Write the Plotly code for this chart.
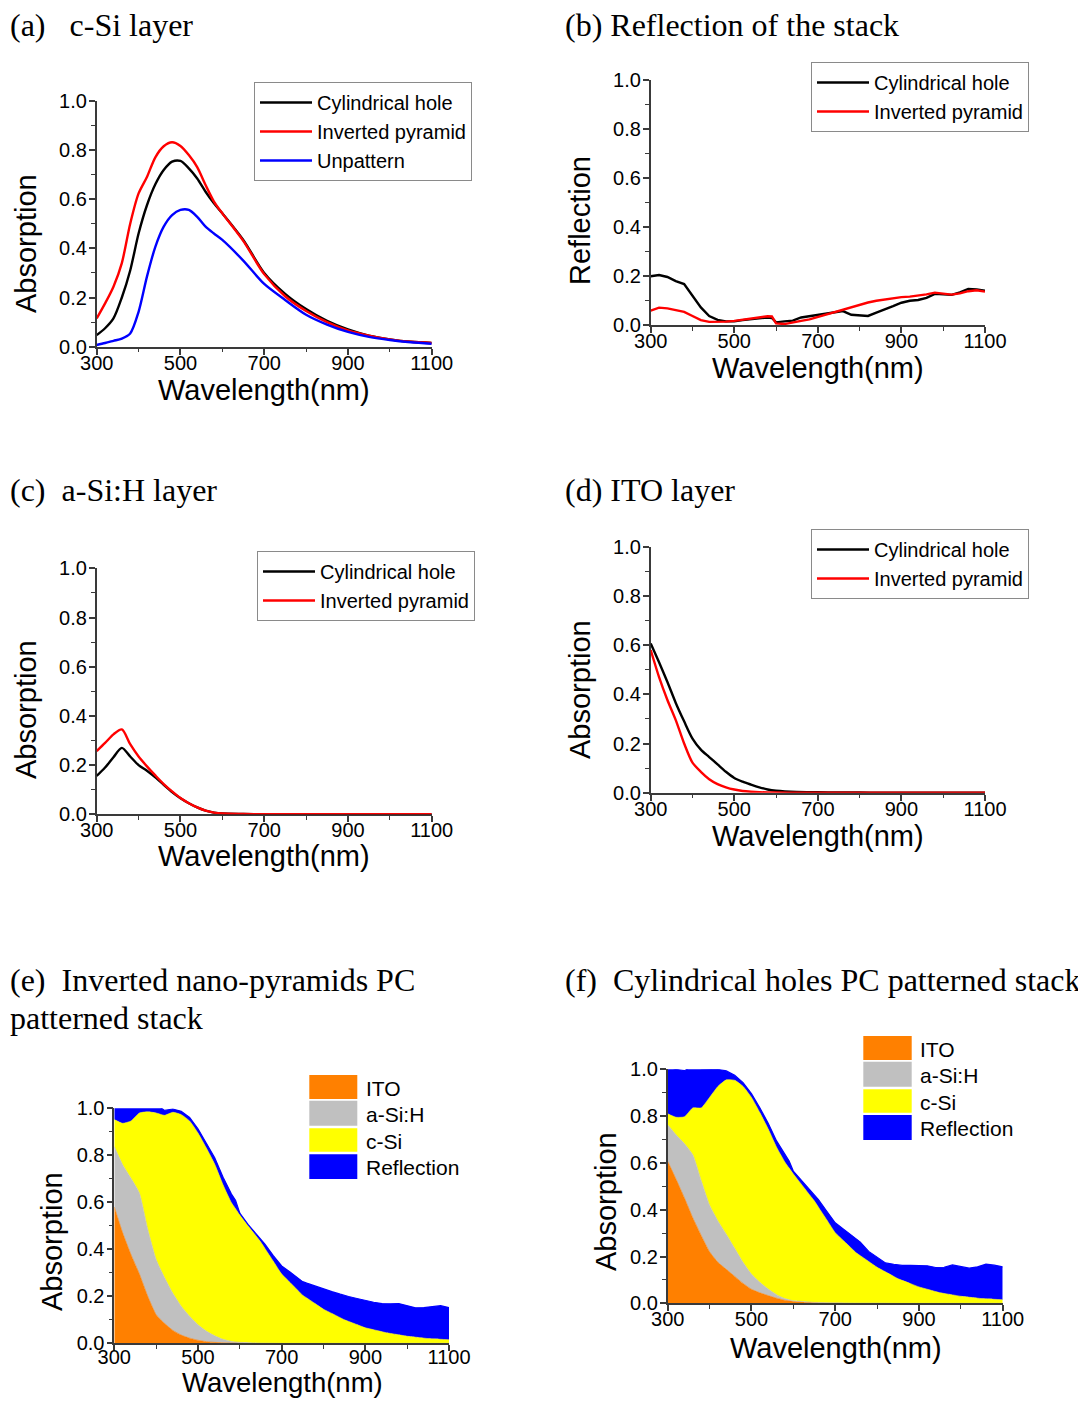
import plotly.graph_objects as go

# ---------------- data ----------------
W = [300, 320, 340, 360, 380, 400, 420, 440, 460, 480, 500, 520, 540, 560, 580, 600,
     650, 700, 750, 800, 850, 900, 950, 1000, 1050, 1100]

# (a) c-Si layer absorption
csi_cyl = [0.047, 0.075, 0.115, 0.20, 0.31, 0.46, 0.575, 0.66, 0.718, 0.752, 0.755, 0.725, 0.684, 0.63, 0.583, 0.542,
           0.434, 0.30, 0.215, 0.153, 0.105, 0.07, 0.045, 0.03, 0.02, 0.015]
csi_pyr = [0.115, 0.176, 0.244, 0.34, 0.50, 0.623, 0.69, 0.77, 0.815, 0.831, 0.816, 0.779, 0.73, 0.657, 0.59, 0.542,
           0.43, 0.295, 0.205, 0.145, 0.10, 0.066, 0.045, 0.03, 0.02, 0.015]
csi_unp = [0.007, 0.015, 0.024, 0.033, 0.054, 0.142, 0.285, 0.406, 0.488, 0.535, 0.556, 0.556, 0.528, 0.488, 0.46, 0.434,
           0.35, 0.255, 0.19, 0.13, 0.09, 0.06, 0.04, 0.027, 0.018, 0.012]

# (c) a-Si:H layer absorption
asi_cyl = [0.156, 0.19, 0.232, 0.27, 0.235, 0.20, 0.177, 0.15, 0.12, 0.09, 0.065, 0.045, 0.028, 0.015, 0.007, 0.003,
           0.001, 0, 0, 0, 0, 0, 0, 0, 0, 0]
asi_pyr = [0.257, 0.29, 0.325, 0.345, 0.285, 0.235, 0.195, 0.158, 0.123, 0.093, 0.066, 0.045, 0.028, 0.015, 0.007, 0.003,
           0.001, 0, 0, 0, 0, 0, 0, 0, 0, 0]

# (d) ITO layer absorption
ito_cyl = [0.607, 0.53, 0.45, 0.365, 0.29, 0.22, 0.175, 0.145, 0.115, 0.085, 0.06, 0.045, 0.033, 0.022, 0.013, 0.008,
           0.003, 0.002, 0.001, 0.001, 0, 0, 0, 0, 0, 0]
ito_pyr = [0.58, 0.47, 0.377, 0.295, 0.20, 0.122, 0.085, 0.055, 0.035, 0.022, 0.013, 0.007, 0.004, 0.002, 0.001, 0.001,
           0, 0, 0, 0, 0, 0, 0, 0, 0, 0]

# (b) reflection of the stack
WB = [300, 320, 340, 360, 380, 400, 420, 440, 460, 480, 500, 520, 540, 560, 580, 590, 600, 620, 640, 660, 680,
      700, 720, 740, 760, 780, 800, 820, 840, 860, 880, 900, 920, 940, 960, 980, 1000, 1020, 1040, 1060, 1080, 1100]
refl_cyl = [0.20, 0.205, 0.197, 0.18, 0.168, 0.122, 0.073, 0.038, 0.022, 0.016, 0.016, 0.021, 0.024, 0.027, 0.032,
            0.03, 0.012, 0.016, 0.019, 0.032, 0.037, 0.042, 0.049, 0.055, 0.058, 0.043, 0.042, 0.038, 0.052, 0.064,
            0.078, 0.092, 0.10, 0.103, 0.112, 0.128, 0.126, 0.124, 0.134, 0.148, 0.146, 0.141]
refl_pyr = [0.06, 0.072, 0.069, 0.062, 0.055, 0.038, 0.021, 0.014, 0.014, 0.015, 0.018, 0.023, 0.028, 0.033, 0.037,
            0.036, 0.008, 0.005, 0.01, 0.018, 0.024, 0.034, 0.044, 0.052, 0.063, 0.074, 0.085, 0.093, 0.10, 0.106,
            0.111, 0.115, 0.117, 0.12, 0.126, 0.133, 0.13, 0.125, 0.13, 0.139, 0.143, 0.137]

x_ticks = [300, 500, 700, 900, 1100]
y_ticks = [0.0, 0.2, 0.4, 0.6, 0.8, 1.0]

# ---------------- layout helpers ----------------
OFF = 8                      # default page margin around the figure
FW, FH = 1086 - OFF, 1401 - OFF
SANS = "Liberation Sans, Arial, sans-serif"
SERIF = "Liberation Serif, Times New Roman, serif"
AXC = "#3a3a3a"


def px(x):
    return (x - OFF) / FW


def py(y):
    return 1 - (y - OFF) / FH


# plot-area boxes in page pixels (left, right, top, bottom)
boxes = {
    1: (96.7, 431.7, 100.7, 346.7),
    2: (650.7, 985.0, 80.0, 325.3),
    3: (96.7, 431.7, 568.3, 814.3),
    4: (650.7, 985.0, 546.7, 792.7),
    5: (114.3, 449.0, 1108.3, 1343.3),
    6: (667.7, 1002.7, 1069.3, 1303.3),
}

fig = go.Figure()

BLACK, RED, BLUE = "#000000", "#FF0000", "#0000FF"


def line(x, y, name, color, n, legend, shape="spline"):
    sfx = "" if n == 1 else str(n)
    fig.add_trace(go.Scatter(
        x=x, y=y, name=name, mode="lines",
        line=dict(color=color, width=2.4, shape=shape, smoothing=0.8),
        xaxis="x" + sfx, yaxis="y" + sfx, legend=legend))


# (a)
line(W, csi_cyl, "Cylindrical hole", BLACK, 1, "legend")
line(W, csi_pyr, "Inverted pyramid", RED, 1, "legend")
line(W, csi_unp, "Unpattern", BLUE, 1, "legend")
# (b)
line(WB, refl_cyl, "Cylindrical hole", BLACK, 2, "legend2", shape="linear")
line(WB, refl_pyr, "Inverted pyramid", RED, 2, "legend2", shape="linear")
# (c)
line(W, asi_cyl, "Cylindrical hole", BLACK, 3, "legend3")
line(W, asi_pyr, "Inverted pyramid", RED, 3, "legend3")
# (d)
line(W, ito_cyl, "Cylindrical hole", BLACK, 4, "legend4")
line(W, ito_pyr, "Inverted pyramid", RED, 4, "legend4")

# (e) / (f) stacked areas
ORANGE, GRAY, YELLOW = "#FF8000", "#C0C0C0", "#FFFF00"
stack_specs = [
    ("ITO", ORANGE),
    ("a-Si:H", GRAY),
    ("c-Si", YELLOW),
    ("Reflection", BLUE),
]
stack_e = [(W, ito_pyr), (W, asi_pyr), (W, csi_pyr), (WB, refl_pyr)]
stack_f = [(W, ito_cyl), (W, asi_cyl), (W, csi_cyl), (WB, refl_cyl)]
for n, stack, grp in [(5, stack_e, "e"), (6, stack_f, "f")]:
    for (name, col), (xx, yy) in zip(stack_specs, stack):
        is_r = col == BLUE
        fig.add_trace(go.Scatter(
            x=xx, y=yy, name=name, mode="lines", stackgroup=grp, stackgaps="interpolate",
            line=dict(color=col, width=1.2 if is_r else 0.6,
                      shape="linear" if is_r else "spline", smoothing=0.5),
            fillcolor=col, xaxis="x" + str(n), yaxis="y" + str(n), showlegend=False))

layout = dict(
    width=FW, height=FH, autosize=False,
    margin=dict(l=0, r=0, t=0, b=0, pad=0, autoexpand=False),
    paper_bgcolor="white", plot_bgcolor="white",
    showlegend=True,
    font=dict(family=SANS, color="black"),
)

for n, (l, r, t, b) in boxes.items():
    sfx = "" if n == 1 else str(n)
    lay = "below traces" if n in (3, 4) else "above traces"
    layout["xaxis" + sfx] = dict(
        domain=[px(l), px(r)], anchor="y" + sfx, range=[300, 1100], automargin=False,
        tickmode="array", tickvals=x_ticks, ticktext=[str(v) for v in x_ticks],
        ticks="outside", ticklen=6, tickwidth=1.5, tickcolor=AXC,
        ticklabelstandoff=-11 if n == 5 else -9,
        minor=dict(tickmode="array", tickvals=[400, 600, 800, 1000], ticks="outside",
                   ticklen=3.5, tickwidth=1.3, tickcolor=AXC),
        showline=True, linecolor=AXC, linewidth=1.6, mirror=False,
        showgrid=False, zeroline=False,
        tickfont=dict(family=SANS, size=20, color="black"),
        layer=lay,
    )
    layout["yaxis" + sfx] = dict(
        domain=[py(b), py(t)], anchor="x" + sfx, range=[0, 1], automargin=False,
        tickmode="array", tickvals=y_ticks, ticktext=["%.1f" % v for v in y_ticks],
        ticks="outside", ticklen=6, tickwidth=1.5, tickcolor=AXC, ticklabelstandoff=-2,
        minor=dict(tickmode="array", tickvals=[0.1, 0.3, 0.5, 0.7, 0.9], ticks="outside",
                   ticklen=3.5, tickwidth=1.3, tickcolor=AXC),
        showline=True, linecolor=AXC, linewidth=1.6, mirror=False,
        showgrid=False, zeroline=False,
        tickfont=dict(family=SANS, size=20, color="black"),
        layer=lay,
    )

leg_common = dict(
    xanchor="left", yanchor="top", bgcolor="white", bordercolor="#8a8a8a", borderwidth=1,
    font=dict(family=SANS, size=20, color="black"), itemwidth=52, tracegroupgap=0,
    traceorder="normal",
)
layout["legend"] = dict(x=px(254), y=py(82), **leg_common)
layout["legend2"] = dict(x=px(811), y=py(62), **leg_common)
layout["legend3"] = dict(x=px(257), y=py(551), **leg_common)
layout["legend4"] = dict(x=px(811), y=py(529), **leg_common)

annotations = []


def txt(x, y, s, size, family=SANS, anchor="center", angle=0):
    annotations.append(dict(
        x=px(x), y=py(y), xref="paper", yref="paper", text=s, showarrow=False,
        xanchor=anchor, yanchor="middle", textangle=angle, align="left",
        font=dict(family=family, size=size, color="black")))


NB = "\u00a0"
TS = 32
# panel titles
txt(8, 25, "(a)" + NB * 3 + "c-Si layer", TS, SERIF, "left")
txt(563, 25, "(b) Reflection of the stack", TS, SERIF, "left")
txt(8, 490, "(c)" + NB * 2 + "a-Si:H layer", TS, SERIF, "left")
txt(563, 490, "(d) ITO layer", TS, SERIF, "left")
txt(8, 980, "(e)" + NB * 2 + "Inverted nano-pyramids PC", TS, SERIF, "left")
txt(8, 1018, "patterned stack", TS, SERIF, "left")
txt(563, 980, "(f)" + NB * 2 + "Cylindrical holes PC patterned stack", TS, SERIF, "left")

# axis titles
for (cx, cy, fs) in [(264, 390, 29), (818, 368, 29), (264, 856, 29), (818, 836, 29),
                     (282, 1382, 27.5), (836, 1348, 29)]:
    txt(cx, cy, "Wavelength(nm)", fs)
txt(26, 244, "Absorption", 29, angle=-90)
txt(580, 221, "Reflection", 29, angle=-90)
txt(26, 710, "Absorption", 29, angle=-90)
txt(580, 690, "Absorption", 29, angle=-90)
txt(52, 1242, "Absorption", 29, angle=-90)
txt(606, 1202, "Absorption", 29, angle=-90)

# legends of the stacked panels (swatches + labels)
shapes = []
sw_e = [(1075, 1099), (1100.7, 1125.7), (1128.3, 1151.7), (1154.3, 1179)]
sw_f = [(1036, 1060), (1061.7, 1086.7), (1089.3, 1112.7), (1115, 1140)]
for (x0, x1, lx, rows) in [(309.3, 357.3, 364, sw_e), (863.3, 911.7, 918, sw_f)]:
    for (name, col), (y0, y1) in zip(stack_specs, rows):
        shapes.append(dict(type="rect", xref="paper", yref="paper",
                           x0=px(x0), x1=px(x1), y0=py(y1), y1=py(y0),
                           fillcolor=col, line=dict(width=0)))
        txt(lx, (y0 + y1) / 2 + 1, name, 21, SANS, "left")

layout["annotations"] = annotations
layout["shapes"] = shapes
fig.update_layout(**layout)

fig.write_html("out.html")
